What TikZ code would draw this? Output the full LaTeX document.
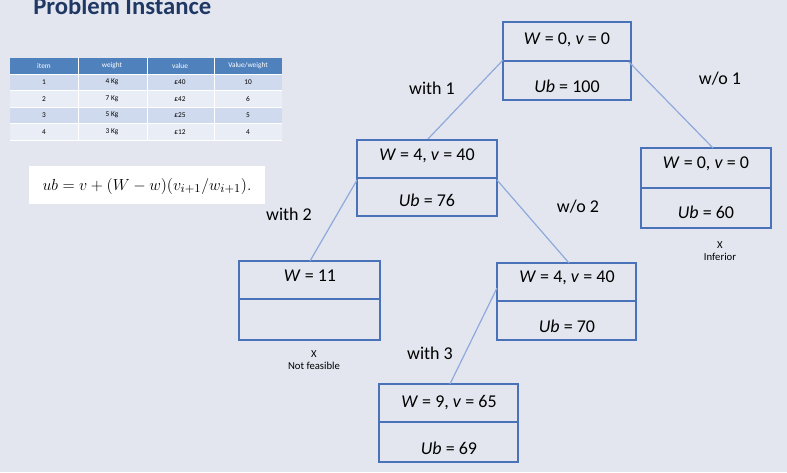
\documentclass[tikz,border=0pt]{standalone}
\usepackage{fontspec}
\setmainfont{Carlito}
\definecolor{bg}{HTML}{E3E6EE}
\definecolor{bx}{HTML}{4A72B8}
\definecolor{ln}{HTML}{8EA9DB}
\definecolor{hd}{HTML}{4F81BD}
\definecolor{ra}{HTML}{CFDAEE}
\definecolor{rb}{HTML}{E9EDF6}
\definecolor{ttl}{HTML}{1F3864}
\begin{document}
\begin{tikzpicture}[x=0.75pt,y=-0.75pt,
  lab/.style={font=\fontsize{13.5}{15}\selectfont},
  edge/.style={draw=ln,line width=0.9pt},
  tt/.style={font=\fontsize{5.5}{6}\selectfont},
  small/.style={font=\fontsize{8}{9}\selectfont,align=center}]
\fill[bg] (0,0) rectangle (787,472);
\useasboundingbox (0,0) rectangle (787,472);
\node[anchor=base west,text=ttl,font=\bfseries\fontsize{18.5}{20}\selectfont,inner sep=0] (title) at (33,14) {Problem Instance};
% table
\fill[hd] (10,58) rectangle (282,74);
\foreach \i/\c in {0/ra,1/rb,2/ra,3/rb}{\fill[\c] (10,{74+16.5*\i}) rectangle (282,{74+16.5*(\i+1)});}
\foreach \x in {78,147,214}{\draw[white,line width=0.5pt] (\x,58) -- (\x,140);}
\foreach \i in {0,...,4}{\draw[white,line width=0.5pt] (10,{74+16.5*\i}) -- (282,{74+16.5*\i});}
\foreach \t [count=\k] in {item,weight,value,Value/weight}{\node[tt,text=white] (h\k) at ({10+68*(\k-1)+34},66) {\t};}
\foreach \a/\b/\c/\d [count=\r] in {1/4 Kg/£40/10,2/7 Kg/£42/6,3/5 Kg/£25/5,4/3 Kg/£12/4}{
  \node[tt] (c\r a) at (44,{74+16.5*(\r-0.5)}) {\a};
  \node[tt] (c\r b) at (112,{74+16.5*(\r-0.5)}) {\b};
  \node[tt] (c\r c) at (180,{74+16.5*(\r-0.5)}) {\c};
  \node[tt] (c\r d) at (248,{74+16.5*(\r-0.5)}) {\d};}
\fill[white] (29,166) rectangle (265,204);
\node (f) at (147,186) {\fontsize{13}{15}\selectfont $ub = v + (W-w)(v_{i+1}/w_{i+1}).$};
% boxes
\newcommand{\tbox}[6]{%
  \draw[draw=bx,line width=0.8pt] (#2,#3) rectangle (#4,#5);
  \draw[draw=bx,line width=0.8pt] (#2,#6) -- (#4,#6);
  \coordinate (#1) at ({(#2+#4)/2},{(#3+#5)/2});}
\tbox{root}{503}{22}{631}{100}{61}
\node[lab] (rt) at (567,40) {\textit{W} = 0, \textit{v} = 0};
\node[lab] (rb) at (567,86) {\textit{Ub} = 100};
\tbox{A}{357}{140}{497}{216}{178}
\node[lab] (at) at (427,156) {\textit{W} = 4, \textit{v} = 40};
\node[lab] (ab) at (427,200) {\textit{Ub} = 76};
\tbox{R}{641}{148}{771}{228}{188}
\node[lab] (Rt) at (706,164) {\textit{W} = 0, \textit{v} = 0};
\node[lab] (Rb) at (706,212) {\textit{Ub} = 60};
\tbox{B}{239}{261}{380}{340}{299}
\node[lab] (bt) at (310,276) {\textit{W} = 11};
\tbox{C}{497}{263}{636}{340}{301}
\node[lab] (ct) at (567,278) {\textit{W} = 4, \textit{v} = 40};
\node[lab] (cb) at (567,326) {\textit{Ub} = 70};
\tbox{D}{379}{384}{518}{462}{422}
\node[lab] (dt) at (449,403) {\textit{W} = 9, \textit{v} = 65};
\node[lab] (db) at (449,448) {\textit{Ub} = 69};
% edges
\coordinate (e1a) at (503,60); \coordinate (e1b) at (428,139);
\coordinate (e2a) at (629,62); \coordinate (e2b) at (713,148);
\coordinate (e3a) at (357,180); \coordinate (e3b) at (310,261);
\coordinate (e4a) at (497,180); \coordinate (e4b) at (569,263);
\coordinate (e5a) at (497,288); \coordinate (e5b) at (450,384);
\draw[edge] (e1a) -- (e1b); \draw[edge] (e2a) -- (e2b);
\draw[edge] (e3a) -- (e3b); \draw[edge] (e4a) -- (e4b);
\draw[edge] (e5a) -- (e5b);
\node[lab] (l1) at (432,88) {with 1};
\node[lab] (l2) at (720,79) {w/o 1};
\node[lab] (l3) at (289,214) {with 2};
\node[lab] (l4) at (578,207) {w/o 2};
\node[lab] (l5) at (430,353) {with 3};
\node[small] (inf) at (720,251) {X\\Inferior};
\node[small] (nf) at (314,360) {X\\Not feasible};
\end{tikzpicture}
\end{document}
